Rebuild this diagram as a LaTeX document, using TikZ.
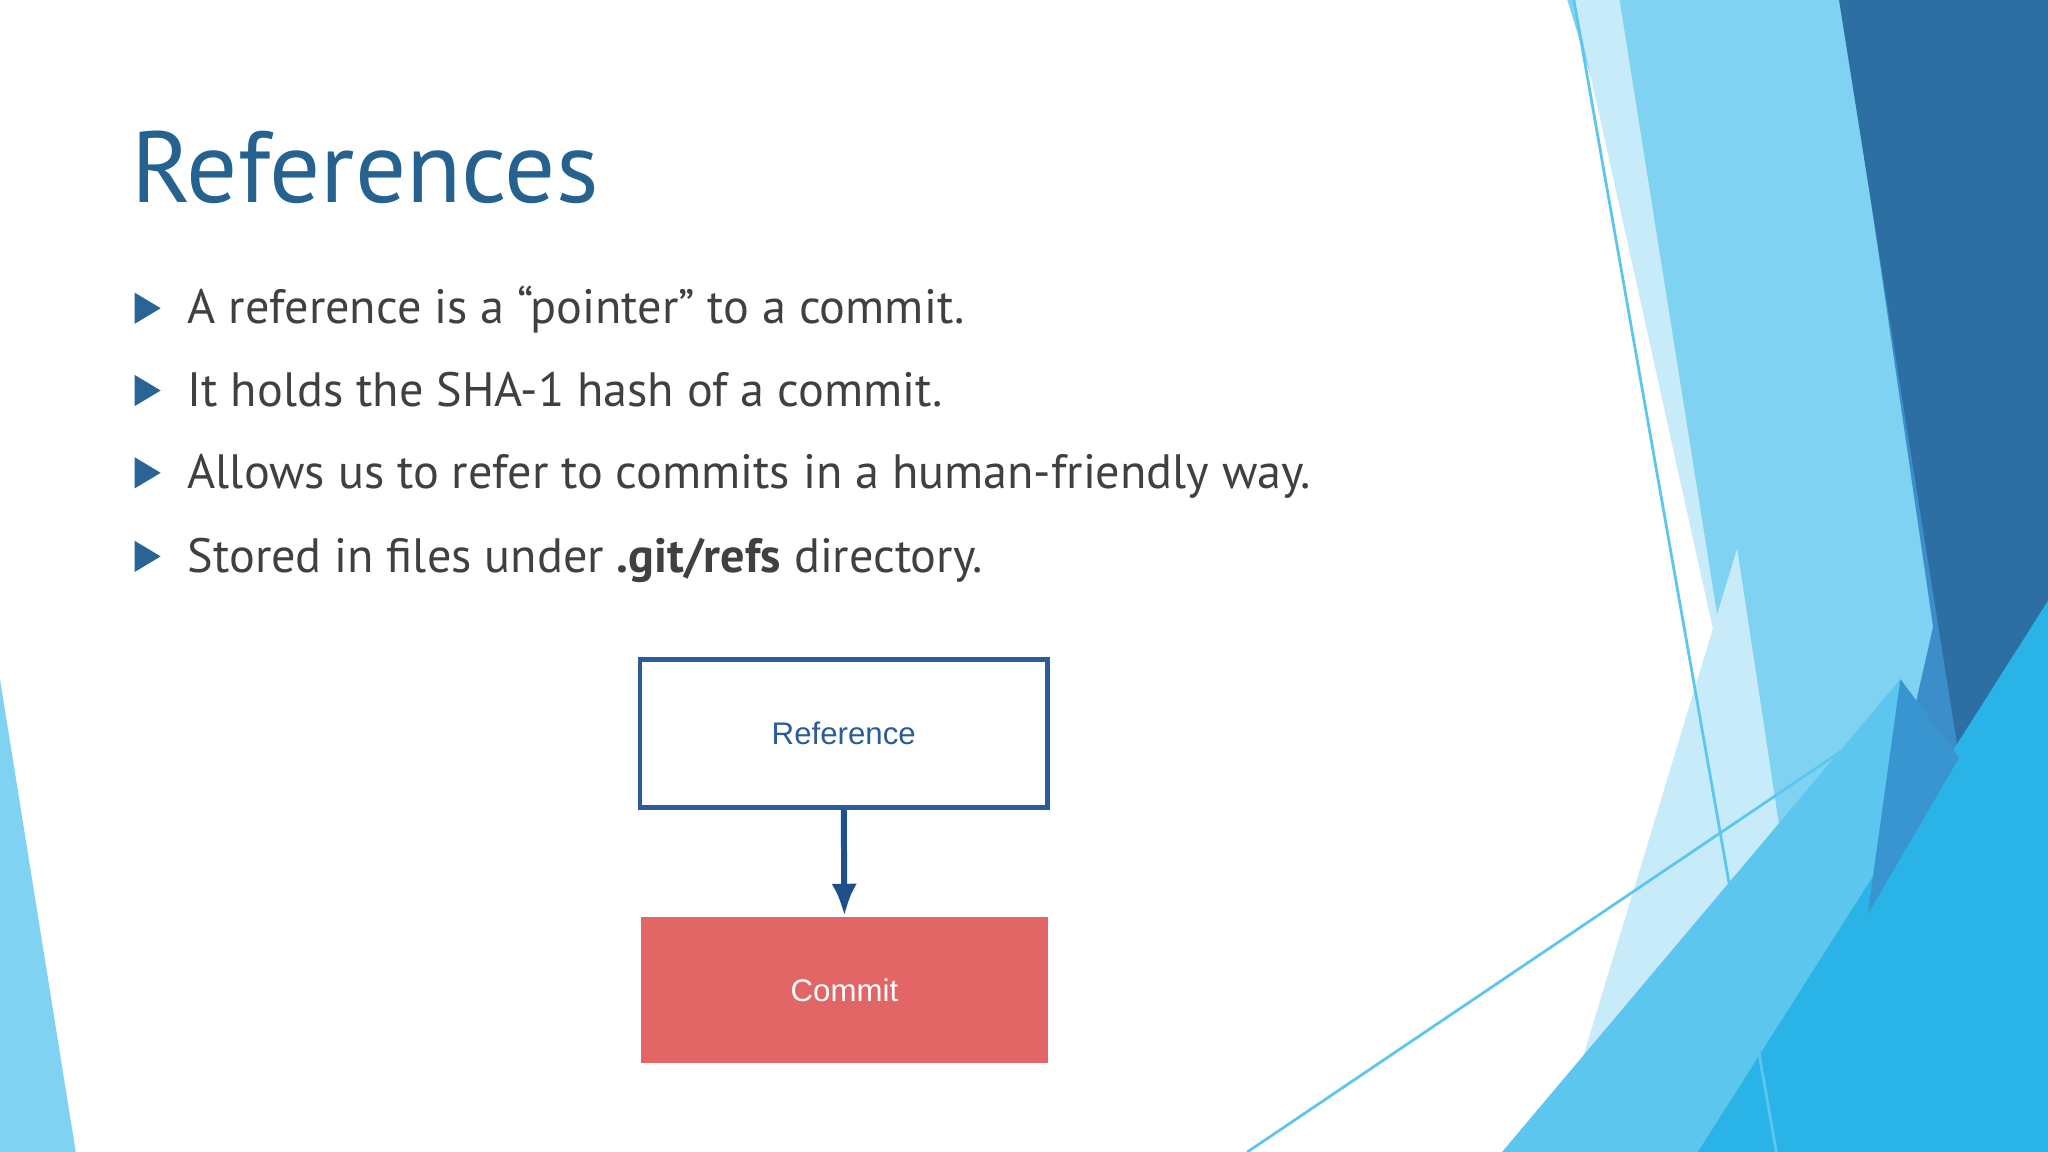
\documentclass[tikz,border=0pt]{standalone}
\usepackage{fontspec}
\usetikzlibrary{arrows.meta}
\setmainfont{PT Sans}
\newfontfamily\arialf{Liberation Sans}
\definecolor{titleblue}{HTML}{25628F}
\definecolor{txt}{HTML}{404040}
\definecolor{bul}{HTML}{2A6496}
\definecolor{lb1}{HTML}{7FD2F2}
\definecolor{lb2}{HTML}{C8EBF9}
\definecolor{mb}{HTML}{3C8ECB}
\definecolor{db}{HTML}{2D6FA3}
\definecolor{cy}{HTML}{2AB3E6}
\definecolor{cy2}{HTML}{5CC6EE}
\definecolor{refc}{HTML}{2B5B9B}
\definecolor{comc}{HTML}{E36666}
\definecolor{arr}{HTML}{1F4E8C}
\begin{document}
\begin{tikzpicture}[x=0.01cm,y=-0.01cm,
  bulline/.style={anchor=base west,text=txt,font=\fontsize{10.5pt}{12pt}\selectfont,inner sep=0},
  bulmark/.style={fill=bul},
]
\useasboundingbox (0,0) rectangle (1568,882);
\fill[white] (0,0) rectangle (1568,882);
% left sliver
\fill[lb1] (0,520) -- (0,882) -- (58,882) -- cycle;
% right decoration
\fill[lb1] (1200,0) -- (1410,0) -- (1568,882) -- (1470,882) -- cycle;
\fill[lb2] (1205,0) -- (1240,0) -- (1460,882) -- (1400,882) -- cycle;
\fill[lb1] (1240,0) -- (1410,0) -- (1500,580) -- (1420,882) -- (1380,882) -- cycle;
\fill[mb] (1410,0) -- (1500,0) -- (1568,200) -- (1568,882) -- (1430,700) -- (1480,480) -- cycle;
\fill[db] (1408,0) -- (1568,0) -- (1568,460) -- (1500,580) -- cycle;
\fill[lb2] (1190,882) -- (1330,420) -- (1400,882) -- cycle;
\fill[cy2] (1150,882) -- (1455,520) -- (1440,882) -- cycle;
\fill[cy] (1300,882) -- (1568,460) -- (1568,882) -- cycle;
\fill[mb!80!cy] (1430,700) -- (1455,520) -- (1500,580) -- cycle;
\draw[cy2,line width=0.6pt] (1205,0) -- (1360,882);
\draw[cy2,line width=0.6pt] (955,882) -- (1410,575);
% title
\node[anchor=base west,inner sep=0,text=titleblue,font=\fontsize{22pt}{26pt}\selectfont] (title) at (100,155) {References};
% bullets
\foreach \y/\t [count=\i] in {248/{A reference is a “pointer” to a commit.},
  311/{It holds the SHA-1 hash of a commit.},
  374/{Allows us to refer to commits in a human-friendly way.},
  438/{Stored in files under \textbf{.git/refs} directory.}}{
  \fill[bulmark] (103,\y-24) -- (123,\y-12) -- (103,\y) -- cycle;
  \node[bulline] (b\i) at (143,\y) {\t};
}
% diagram
\node[draw=refc,line width=1pt,fill=white,minimum width=3.12cm,minimum height=1.13cm,inner sep=0,text=refc,font=\arialf\fontsize{6.8pt}{8pt}\selectfont] (ref) at (646,561.5) {Reference};
\node[fill=comc,minimum width=3.11cm,minimum height=1.12cm,inner sep=0,text=white,font=\arialf\fontsize{6.8pt}{8pt}\selectfont] (com) at (646.5,758) {Commit};
\draw[arr,line width=1.3pt,-{Latex[length=7pt,width=5.5pt]}] (ref.south) -- (com.north);
\end{tikzpicture}
\end{document}
